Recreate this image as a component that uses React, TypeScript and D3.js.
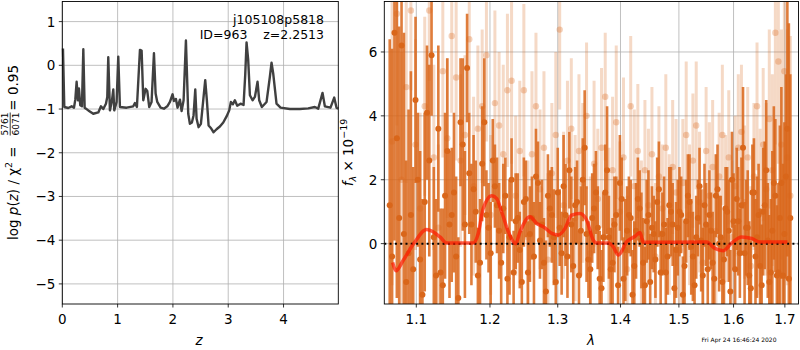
import * as React from 'react';
import * as d3 from 'd3';

// p(z) curve
const zGrid = [0.012, 0.036, 0.108, 0.169, 0.211, 0.235, 0.259, 0.283, 0.301, 0.325, 0.355, 0.38, 0.404, 0.47, 0.56, 0.651, 0.699, 0.741, 0.789, 0.813, 0.831, 0.861, 0.898, 0.922, 0.94, 0.982, 1.012, 1.042, 1.163, 1.283, 1.313, 1.349, 1.404, 1.434, 1.464, 1.506, 1.536, 1.572, 1.614, 1.657, 1.687, 1.717, 1.777, 1.837, 1.898, 1.946, 1.994, 2.018, 2.054, 2.084, 2.127, 2.157, 2.193, 2.235, 2.277, 2.307, 2.343, 2.373, 2.404, 2.428, 2.464, 2.506, 2.548, 2.584, 2.614, 2.645, 2.693, 2.735, 2.789, 2.849, 2.91, 2.97, 3.018, 3.048, 3.084, 3.12, 3.163, 3.223, 3.277, 3.307, 3.331, 3.361, 3.392, 3.44, 3.482, 3.53, 3.56, 3.608, 3.693, 3.753, 3.783, 3.813, 3.873, 3.946, 4.114, 4.295, 4.446, 4.566, 4.627, 4.705, 4.747, 4.849, 4.916, 4.958, 4.988];
const logPz = [0.385, -0.954, -0.977, -0.938, -0.969, -0.785, -0.377, -0.8, -0.531, -0.915, -0.938, 0.369, -0.969, -1.031, -1.108, -1.077, -0.938, -1.0, -0.877, -0.723, 0.185, -1.031, -0.8, -0.554, -1.031, -0.838, 0.2, -0.954, -0.969, -0.938, -0.862, -0.954, 0.354, 0.338, -0.8, -0.538, -0.585, -0.954, -0.838, 0.277, -0.646, -0.838, -0.969, -0.992, -0.938, -0.838, -0.662, -0.815, -0.769, -0.969, -0.785, -1.046, -0.8, 0.569, -1.108, -1.338, -1.308, -1.146, -0.554, -1.223, -1.415, -1.338, -0.8, -0.338, -0.8, -1.377, -1.446, -1.531, -1.462, -1.4, -1.308, -1.169, -1.031, -0.838, -0.892, -0.8, -0.923, -0.877, -0.908, -0.223, 0.523, 0.123, -0.685, -0.8, -0.723, -0.377, -0.8, -0.954, -0.838, -0.262, 0.062, -0.185, -0.877, -0.969, -1.0, -1.0, -0.985, -0.954, -0.992, -0.631, -0.938, -0.969, -0.738, -0.969, -0.992];

// spectrum: wavelength grids start/step, fluxes and errors
const darkLamStart = 1.066;
const lightLamStart = 1.069;
const lamStep = 0.006;
const darkFlux = [1.2, 6.6, 0.8, 0.3, -0.3, -0.8, 2.0, -1.6, 4.1, 5.9, -1.0, -0.9, 1.5, 0.6, 1.6, -1.7, 3.1, 5.5, 0.6, 1.0, -0.6, 3.8, 0.5, 2.6, 1.2, -0.6, 1.5, 0.2, -0.9, 0.8, -1.2, 1.4, 0.3, -0.4, 1.9, 0.6, -1.5, 1.1, 0.2, 1.6, -0.3, 0.9, 2.3, -0.7, 1.3, 0.4, 3.0, -0.5, 0.8, 1.6, -1.1, 0.2, 2.3, -0.8, 0.6, -1.3, 1.4, -0.2, 0.9, -1.6, 0.4, 1.1, -0.6, 0.7, -1.2, 0.3, 1.3, -0.9, 0.6, -0.4, 1.0, -1.4, 0.5, 0.9, -0.7, 1.5, -0.1, -1.3, 0.8, 0.1, 1.2, -0.8, 0.4, -1.1, 1.7, 0.2, -0.5, 1.0, -1.5, 0.7, 1.4, -0.3, 3.0, 0.5, -1.0, 1.6, -0.4, 0.9, -1.3, 1.2, 0.1, -0.9, 1.9, -1.0, 0.8, -1.0, 2.1, -1.1];
const darkErr = [5.2, 6.5, 6.0, 6.3, 4.5, 3.2, 2.1, 3.0, 2.1, 1.9, 2.4, 2.0, 2.6, 2.3, 2.5, 1.9, 2.7, 1.7, 1.9, 1.6, 2.0, 2.0, 1.4, 1.3, 1.5, 1.6, 1.2, 1.8, 1.3, 1.4, 1.6, 1.2, 1.5, 1.7, 1.3, 1.4, 1.6, 1.2, 1.5, 1.4, 1.3, 1.6, 1.2, 1.5, 1.3, 1.4, 1.8, 1.2, 1.4, 1.3, 1.5, 1.4, 2.0, 1.3, 1.5, 1.2, 1.3, 1.6, 1.2, 1.4, 1.5, 1.2, 1.4, 1.3, 1.5, 1.2, 1.4, 1.3, 1.5, 1.2, 1.4, 1.3, 1.5, 1.2, 1.4, 1.3, 1.5, 1.4, 1.2, 1.6, 1.3, 1.4, 1.2, 1.5, 1.4, 1.3, 1.6, 1.4, 1.3, 1.5, 1.6, 1.4, 1.9, 1.5, 1.7, 1.5, 1.8, 1.6, 1.9, 2.0, 1.8, 2.3, 2.4, 2.2, 2.9, 3.5, 3.2, 8.0];
const dark2Flux = [-0.4, 3.3, 6.2, -1.2, 0.9, 4.5, -0.5, 1.3, 2.6, 0.2, 3.6, -1.3, 2.9, 0.9, -0.4, 3.8, 0.6, 2.2,
  1.7, -1.0, 2.5, 0.9, -0.3, 1.8, 0.4, 1.1, -1.1, 2.0,
  0.7, -0.2, 1.3, -0.9, 0.8, 2.1, 0.1, -0.6, 1.5, 0.9,
  -1.2, 0.5, 1.8, -0.4, 0.6, 1.2, -1.0, 2.0, 0.3, -0.8,
  1.1, 0.5, -1.4, 1.6, 0.2, -0.6, 0.9, 1.9, -1.1, 0.4,
  0.8, -0.7, 1.4, 0.1, -1.3, 0.9, 0.5, -0.5, 1.7, 0.3,
  -0.9, 1.2, 0.6, -0.2, 1.0, -1.6, 0.7, 1.3, -0.4, 0.2,
  1.8, -1.0, 0.6, 0.9, -0.6, 1.5, 0.0, -1.2, 1.1, 0.4,
  2.0, -0.8, 0.7, 1.2, -0.3, 0.5, -1.4, 1.6, 0.2, -0.7,
  1.0, 2.3, -1.2, 0.4, 1.5, -0.9, 1.9, 0.3, 3.6, 0.8];
const dark2Err = [6.5, 5.0, 4.2, 3.8, 4.5, 2.6, 3.4, 2.8, 3.0, 2.2, 2.6, 2.4, 2.9, 2.1, 2.5, 2.0, 2.3, 1.9,
  1.7, 1.5, 1.8, 1.4, 1.6, 1.3, 1.5, 1.4, 1.6, 1.3,
  1.5, 1.2, 1.4, 1.6, 1.3, 1.5, 1.2, 1.4, 1.3, 1.5,
  1.4, 1.2, 1.6, 1.3, 1.5, 1.2, 1.4, 1.3, 1.5, 1.2,
  1.4, 1.3, 1.2, 1.5, 1.3, 1.4, 1.2, 1.5, 1.3, 1.4,
  1.2, 1.4, 1.3, 1.5, 1.2, 1.4, 1.3, 1.2, 1.5, 1.3,
  1.4, 1.2, 1.3, 1.5, 1.4, 1.2, 1.3, 1.5, 1.4, 1.3,
  1.2, 1.5, 1.3, 1.4, 1.6, 1.3, 1.5, 1.4, 1.3, 1.6,
  1.5, 1.4, 1.7, 1.5, 1.6, 1.8, 1.5, 1.7, 1.9, 1.8,
  2.0, 2.2, 2.1, 2.5, 2.4, 2.8, 3.0, 3.5, 4.0, 4.5];
const lightFlux = [3.2, 7.2, 2.0, 4.9, 7.3, 3.1, 1.1, 4.3, 7.3, 2.7, 0.5, 5.4, 3.3, 6.5, 5.2, 2.6, 3.4, 6.4, 1.8, 3.6, 4.3, 5.9, 0.9, 4.4, 3.7, 2.8, 4.8, 5.1, 1.5, 2.9, 4.8, 0.2, 2.8, 4.3, 1.7, 3.0, -0.5, 2.2, 3.4, 6.7, 1.2, 2.6, 3.6, 0.8, 2.9, 1.9, 4.0, -0.3, 2.5, 1.4, 3.0, 4.6, 0.4, 2.3, 3.8, 1.0, 2.7, -0.8, 4.3, 1.8, 2.9, 0.3, 2.3, 1.2, 2.8, -0.4, 2.1, 1.1, 3.0, 0.6, 2.4, 1.6, -0.2, 1.9, 3.4, 0.9, 2.6, 3.7, 1.3, -0.6, 2.9, 1.5, 2.4, 0.4, 2.1, 3.4, 1.1, 2.7, 0.2, 1.8, 3.0, 3.5, 1.3, 2.7, -0.7, 2.1, 4.3, 1.0, 3.1, 1.7, 3.9, 2.3, 6.6, 5.7, 3.1, 5.4, 2.7, 1.5];
const lightErr = [4.5, 3.5, 4.0, 3.0, 2.5, 3.3, 3.0, 2.8, 2.2, 2.9, 2.6, 2.7, 2.5, 2.4, 2.6, 2.7, 2.5, 2.3, 2.8, 2.6, 2.4, 2.7, 2.5, 2.9, 2.3, 2.8, 2.4, 2.6, 2.5, 2.2, 2.7, 2.4, 2.6, 2.3, 2.5, 2.4, 2.7, 2.2, 2.6, 2.5, 2.3, 2.5, 2.2, 2.6, 2.4, 2.5, 2.3, 2.4, 2.6, 2.2, 2.5, 2.0, 2.6, 2.3, 2.4, 2.2, 2.5, 2.3, 2.2, 2.4, 2.1, 2.3, 2.2, 2.4, 2.1, 2.3, 2.2, 2.0, 2.3, 2.2, 2.1, 2.3, 2.2, 2.0, 2.3, 2.2, 2.1, 2.0, 2.2, 2.3, 2.0, 2.3, 2.1, 2.4, 2.0, 2.2, 2.3, 2.1, 2.4, 2.2, 2.3, 2.1, 2.4, 2.2, 2.5, 2.3, 2.0, 2.6, 2.4, 2.7, 2.8, 3.0, 3.5, 3.2, 3.6, 3.5, 4.0, 5.0];

// smooth model (red)
const modelLam = [1.0697, 1.0739, 1.0832, 1.0966, 1.1136, 1.1312, 1.14, 1.1766, 1.1835, 1.1905, 1.2024, 1.2096, 1.2168, 1.2263, 1.237, 1.2433, 1.2581, 1.2681, 1.278, 1.2909, 1.3008, 1.3111, 1.3215, 1.3346, 1.3453, 1.3557, 1.3612, 1.38, 1.3882, 1.3964, 1.4103, 1.4242, 1.4326, 1.4382, 1.55, 1.5653, 1.5807, 1.5965, 1.6154, 1.6346, 1.6509, 1.705];
const modelFlux = [-0.59, -0.85, -0.52, 0.0, 0.44, 0.21, 0.02, 0.02, 0.32, 1.1, 1.5, 1.41, 0.99, 0.37, 0.0, 0.37, 0.84, 0.63, 0.53, 0.32, 0.27, 0.47, 0.89, 0.94, 0.73, 0.11, 0.02, 0.02, -0.1, -0.36, 0.06, 0.23, 0.35, 0.04, 0.05, -0.15, -0.22, 0.02, 0.21, 0.16, 0.05, 0.05];

const zTicks = [0, 1, 2, 3, 4];
const pzTicks = [-5, -4, -3, -2, -1, 0, 1];
const lamTicks = [1.1, 1.2, 1.3, 1.4, 1.5, 1.6, 1.7];
const fTicks = [0, 2, 4, 6];

const FONT = 'DejaVu Sans, sans-serif';
const ORANGE = '#d9661a';

const App = () => {
  const svgRef = React.useRef<SVGSVGElement>(null);

  React.useEffect(() => {
    const svg = d3.select(svgRef.current);
    svg.selectAll('*').remove();

    const zX = d3.scaleLinear().domain([0, 4.99]).range([62.3, 338.3]);
    const pY = d3.scaleLinear().domain([-5.46, 1.46]).range([304, 1.5]);
    const lamX = d3.scaleLog().domain([1.0592, 1.7286]).range([384.3, 799]);
    const fY = d3.scaleLinear().domain([-1.89, 7.58]).range([304, 1.5]);

    const fmt = (d: number) => String(d).replace('-', '\u2212');

    const drawPanel = (x: any, y: any, xt: number[], yt: number[], xfmt: (d: number) => string) => {
      const [x0, x1] = x.range();
      const [y1, y0] = y.range();
      const g = svg.append('g');
      g.selectAll('.gx').data(xt).enter().append('line')
        .attr('x1', d => x(d)).attr('x2', d => x(d)).attr('y1', y0).attr('y2', y1)
        .attr('stroke', '#b0b0b0').attr('stroke-width', 0.8);
      g.selectAll('.gy').data(yt).enter().append('line')
        .attr('x1', x0).attr('x2', x1).attr('y1', d => y(d)).attr('y2', d => y(d))
        .attr('stroke', '#b0b0b0').attr('stroke-width', 0.8);
      g.selectAll('.tx').data(xt).enter().append('line')
        .attr('x1', d => x(d)).attr('x2', d => x(d)).attr('y1', y1).attr('y2', y1 + 3.5)
        .attr('stroke', '#000').attr('stroke-width', 0.8);
      g.selectAll('.lx').data(xt).enter().append('text')
        .attr('x', d => x(d)).attr('y', y1 + 19.5).attr('text-anchor', 'middle')
        .attr('font-family', FONT).attr('font-size', 13.5).text(d => xfmt(d));
      g.selectAll('.ty').data(yt).enter().append('line')
        .attr('x1', x0 - 3.5).attr('x2', x0).attr('y1', d => y(d)).attr('y2', d => y(d))
        .attr('stroke', '#000').attr('stroke-width', 0.8);
      g.selectAll('.ly').data(yt).enter().append('text')
        .attr('x', x0 - 7).attr('y', d => y(d) + 5).attr('text-anchor', 'end')
        .attr('font-family', FONT).attr('font-size', 13.5).text(d => fmt(d));
      return g;
    };

    // left panel
    drawPanel(zX, pY, zTicks, pzTicks, d => String(d));
    const pzLine = d3.line<number>().x((_, i) => zX(zGrid[i])).y(d => pY(d));
    svg.append('path').datum(logPz).attr('d', pzLine)
      .attr('fill', 'none').attr('stroke', '#404040').attr('stroke-width', 2.4)
      .attr('stroke-linejoin', 'round');
    svg.append('rect').attr('x', 62.3).attr('y', 1.5).attr('width', 276).attr('height', 302.5)
      .attr('fill', 'none').attr('stroke', '#000').attr('stroke-width', 0.9);

    svg.append('text').attr('x', 324).attr('y', 24).attr('text-anchor', 'end')
      .attr('font-family', FONT).attr('font-size', 12.5).text('j105108p5818');
    svg.append('text').attr('x', 324).attr('y', 38.5).attr('text-anchor', 'end')
      .attr('font-family', FONT).attr('font-size', 12.5)
      .text('ID=963\u00a0\u00a0\u00a0\u00a0z=2.2513');

    // right panel
    drawPanel(lamX, fY, lamTicks, fTicks, d => d.toFixed(1));
    svg.append('clipPath').attr('id', 'specClip').append('rect')
      .attr('x', 384.3).attr('y', 1.5).attr('width', 414.7).attr('height', 302.5);
    const spec = svg.append('g').attr('clip-path', 'url(#specClip)');

    const light = lightFlux.map((f, i) => ({ lam: lightLamStart + i * lamStep, f, e: lightErr[i] }));
    const dark = darkFlux.map((f, i) => ({ lam: darkLamStart + i * lamStep, f, e: darkErr[i] }))
      .concat(dark2Flux.map((f, i) => ({ lam: lightLamStart + i * lamStep, f, e: dark2Err[i] })));

    spec.selectAll('.le').data(light).enter().append('line')
      .attr('x1', d => lamX(d.lam)).attr('x2', d => lamX(d.lam))
      .attr('y1', d => fY(d.f - d.e)).attr('y2', d => fY(d.f + d.e))
      .attr('stroke', ORANGE).attr('stroke-opacity', 0.25).attr('stroke-width', 3);
    spec.selectAll('.lp').data(light).enter().append('circle')
      .attr('cx', d => lamX(d.lam)).attr('cy', d => fY(d.f)).attr('r', 3.2)
      .attr('fill', ORANGE).attr('fill-opacity', 0.3);
    spec.selectAll('.de').data(dark).enter().append('line')
      .attr('x1', d => lamX(d.lam)).attr('x2', d => lamX(d.lam))
      .attr('y1', d => fY(d.f - d.e)).attr('y2', d => fY(d.f + d.e))
      .attr('stroke', ORANGE).attr('stroke-opacity', 0.85).attr('stroke-width', 2.6);
    spec.selectAll('.dp').data(dark).enter().append('circle')
      .attr('cx', d => lamX(d.lam)).attr('cy', d => fY(d.f)).attr('r', 3)
      .attr('fill', ORANGE);

    spec.append('line').attr('x1', 384.3).attr('x2', 799).attr('y1', fY(0)).attr('y2', fY(0))
      .attr('stroke', '#000').attr('stroke-width', 2).attr('stroke-dasharray', '2,3.3');

    const model = d3.line<number>().x((_, i) => lamX(modelLam[i])).y(d => fY(d)).curve(d3.curveMonotoneX);
    spec.append('path').datum(modelFlux).attr('d', model)
      .attr('fill', 'none').attr('stroke', '#ff1a00').attr('stroke-opacity', 0.7).attr('stroke-width', 3.5);

    svg.append('rect').attr('x', 384.3).attr('y', 1.5).attr('width', 414.2).attr('height', 302.5)
      .attr('fill', 'none').attr('stroke', '#000').attr('stroke-width', 0.9);

    // axis labels
    svg.append('text').attr('x', 199).attr('y', 345).attr('text-anchor', 'middle')
      .attr('font-family', FONT).attr('font-size', 13.5).attr('font-style', 'italic').text('z');
    svg.append('text').attr('x', 591).attr('y', 345).attr('text-anchor', 'middle')
      .attr('font-family', FONT).attr('font-size', 13.5).attr('font-style', 'italic').text('λ');
    svg.append('text').attr('x', 701.5).attr('y', 342)
      .attr('font-family', FONT).attr('font-size', 6).text('Fri Apr 24 16:46:24 2020');

    // left y label
    const yl = svg.append('g').attr('transform', 'translate(18,152.5) rotate(-90)')
      .attr('font-family', FONT).attr('font-size', 13.5);
    const t1 = yl.append('text').attr('x', -87.5).attr('y', 0);
    t1.append('tspan').text('log ');
    t1.append('tspan').attr('font-style', 'italic').text('p');
    t1.append('tspan').text('(');
    t1.append('tspan').attr('font-style', 'italic').text('z');
    t1.append('tspan').text(') / χ');
    t1.append('tspan').attr('font-size', 9.5).attr('dy', -6).text('2');
    t1.append('tspan').attr('dy', 6).text(' =');
    yl.append('text').attr('x', 28.5).attr('y', -10).attr('text-anchor', 'middle').attr('font-size', 9).text('5761');
    yl.append('line').attr('x1', 17).attr('x2', 40).attr('y1', -7.8).attr('y2', -7.8)
      .attr('stroke', '#000').attr('stroke-width', 0.8);
    yl.append('text').attr('x', 28.5).attr('y', 0.5).attr('text-anchor', 'middle').attr('font-size', 9).text('6071');
    yl.append('text').attr('x', 87.5).attr('y', 0).attr('text-anchor', 'end').text('= 0.95');

    // right y label
    const yr = svg.append('g').attr('transform', 'translate(353,152.5) rotate(-90)')
      .attr('font-family', FONT).attr('font-size', 13.5);
    const t2 = yr.append('text').attr('x', 0).attr('y', 0).attr('text-anchor', 'middle');
    t2.append('tspan').attr('font-style', 'italic').text('f');
    t2.append('tspan').attr('font-style', 'italic').attr('font-size', 9.5).attr('dy', 3).text('λ');
    t2.append('tspan').attr('dy', -3).text(' × 10');
    t2.append('tspan').attr('font-size', 9.5).attr('dy', -6).text('\u221219');
  }, []);

  return <svg ref={svgRef} width={800} height={350} style={{ position: 'absolute', left: 0, top: 0 }} />;
};

export default App;
